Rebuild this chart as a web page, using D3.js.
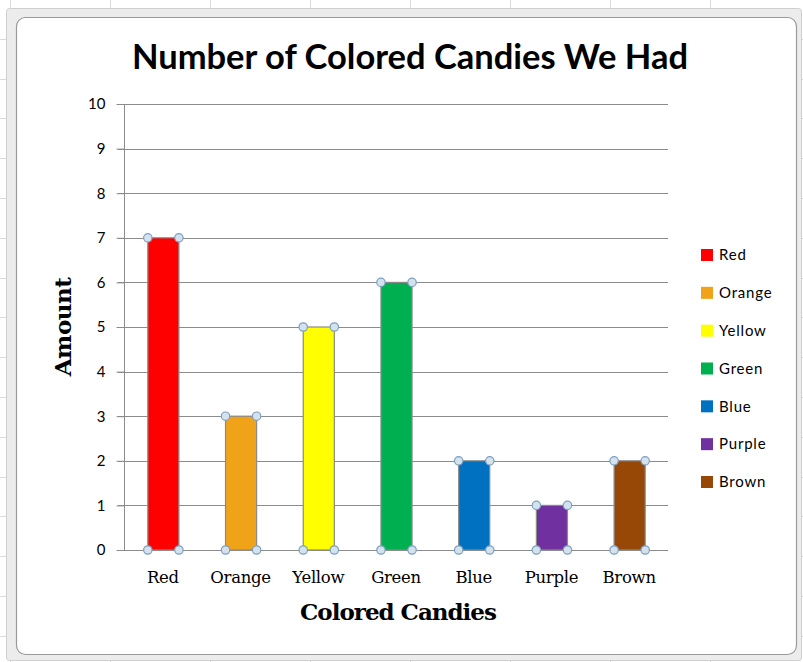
<!DOCTYPE html>
<html>
<head>
<meta charset="utf-8">
<script src="https://cdn.jsdelivr.net/npm/d3@7"></script>
<style>
  html, body { margin: 0; padding: 0; background: #fff; }
  svg { display: block; }
</style>
</head>
<body>
<svg id="chart" width="803" height="662"></svg>
<script>
// ---- data ----
const categories = ["Red", "Orange", "Yellow", "Green", "Blue", "Purple", "Brown"];
const amounts = [7, 3, 5, 6, 2, 1, 2];
const colors = ["#ff0000", "#f0a318", "#ffff00", "#00b050", "#0070c0", "#7030a0", "#974706"];
const yTicks = [0, 1, 2, 3, 4, 5, 6, 7, 8, 9, 10];
const title = "Number of Colored Candies We Had";
const xTitle = "Colored Candies";
const yTitle = "Amount";

const svg = d3.select("#chart");
const W = 803, H = 662;

// ---- spreadsheet background grid ----
const bg = svg.append("g");
const colLines = d3.range(10, W, 100);
const rowLines = d3.range(-1, H, 39.8);
bg.selectAll("line.c").data(colLines).join("line")
  .attr("x1", d => d + 0.5).attr("x2", d => d + 0.5).attr("y1", 0).attr("y2", H)
  .attr("stroke", "#dadada");
bg.selectAll("line.r").data(rowLines).join("line")
  .attr("x1", 0).attr("x2", W).attr("y1", d => Math.round(d) + 0.5).attr("y2", d => Math.round(d) + 0.5)
  .attr("stroke", "#dadada");

// ---- chart frame ----
svg.append("rect").attr("x", 6.5).attr("y", 8.5).attr("width", 795).attr("height", 652)
  .attr("rx", 3).attr("fill", "#ececec").attr("stroke", "#cfcfcf");
svg.append("rect").attr("x", 16.5).attr("y", 17.5).attr("width", 780).attr("height", 637)
  .attr("rx", 9).attr("fill", "#ffffff").attr("stroke", "#9a9a9a").attr("stroke-width", 1.2);

// ---- scales ----
const plot = { left: 124, right: 668, top: 104, bottom: 550 };
const x = d3.scaleBand().domain(categories).range([plot.left, plot.right]).paddingInner(0.6).paddingOuter(0.3);
const y = d3.scaleLinear().domain([0, 10]).range([plot.bottom, plot.top]);

// ---- gridlines ----
svg.append("g").selectAll("line").data(yTicks.filter(d => d > 0)).join("line")
  .attr("x1", plot.left - 6).attr("x2", plot.right)
  .attr("y1", d => Math.round(y(d)) + 0.5).attr("y2", d => Math.round(y(d)) + 0.5)
  .attr("stroke", "#8c8c8c").attr("stroke-width", 1);

// ---- y axis ----
const yAxis = svg.append("g").attr("transform", `translate(${plot.left + 0.5},0)`)
  .call(d3.axisLeft(y).tickValues(yTicks).tickSize(8).tickPadding(11).tickFormat(d3.format("d")));
yAxis.select(".domain").attr("stroke", "#8c8c8c").attr("d", `M0,${plot.top}V${plot.bottom}`);
yAxis.selectAll(".tick line").attr("stroke", "#8c8c8c");
yAxis.selectAll(".tick text").attr("font-family", "Lato, 'Open Sans', sans-serif")
  .attr("font-size", 15).attr("fill", "#000");

// ---- x axis ----
const xAxis = svg.append("g").attr("transform", `translate(0,${plot.bottom + 0.5})`)
  .call(d3.axisBottom(x).tickSize(0).tickPadding(21));
xAxis.select(".domain").attr("stroke", "#8c8c8c").attr("d", `M${plot.left - 6},0H${plot.right}`);
xAxis.selectAll(".tick text").attr("font-family", "'DejaVu Serif', 'Liberation Serif', serif")
  .attr("font-size", 16.5).attr("letter-spacing", -0.3).attr("fill", "#000");

// ---- bars ----
const bars = svg.append("g");
bars.selectAll("rect").data(categories).join("rect")
  .attr("x", d => x(d) + 0.5)
  .attr("y", (d, i) => y(amounts[i]))
  .attr("width", x.bandwidth())
  .attr("height", (d, i) => y(0) - y(amounts[i]))
  .attr("fill", (d, i) => colors[i])
  .attr("stroke", "#8a8a8a").attr("stroke-width", 1.2);

// ---- selection handles ----
const handles = [];
categories.forEach((c, i) => {
  [x(c), x(c) + x.bandwidth()].forEach(hx => {
    handles.push({ hx, hy: y(amounts[i]) });
    handles.push({ hx, hy: y(0) });
  });
});
svg.append("g").selectAll("circle").data(handles).join("circle")
  .attr("cx", d => d.hx + 0.5).attr("cy", d => d.hy)
  .attr("r", 4.2).attr("fill", "#d4e2ee").attr("stroke", "#7d9fbf").attr("stroke-width", 1.2);

// ---- titles ----
svg.append("text").attr("x", 410).attr("y", 69).attr("text-anchor", "middle")
  .attr("font-family", "Lato, 'Open Sans', sans-serif").attr("font-weight", "bold")
  .attr("font-size", 34.5).attr("fill", "#000").text(title);

svg.append("text").attr("x", 398).attr("y", 620).attr("text-anchor", "middle")
  .attr("font-family", "'DejaVu Serif', 'Liberation Serif', serif").attr("font-weight", "bold")
  .attr("font-size", 23).attr("letter-spacing", -1).attr("fill", "#000").text(xTitle);

svg.append("text").attr("transform", "translate(71,327) rotate(-90)").attr("text-anchor", "middle")
  .attr("font-family", "'DejaVu Serif', 'Liberation Serif', serif").attr("font-weight", "bold")
  .attr("font-size", 23).attr("letter-spacing", -0.5).attr("fill", "#000").text(yTitle);

// ---- legend ----
const legend = svg.append("g");
const legY = d3.scaleLinear().domain([0, categories.length - 1]).range([255, 482]);
const li = legend.selectAll("g").data(categories).join("g")
  .attr("transform", (d, i) => `translate(701,${legY(i)})`);
li.append("rect").attr("x", 0).attr("y", -6).attr("width", 12).attr("height", 12)
  .attr("fill", (d, i) => colors[i]);
li.append("text").attr("x", 18).attr("y", 0).attr("dy", "0.35em")
  .attr("font-family", "Lato, 'Open Sans', sans-serif").attr("font-size", 15)
  .attr("letter-spacing", 0.8).attr("fill", "#000").text(d => d);
</script>
</body>
</html>
